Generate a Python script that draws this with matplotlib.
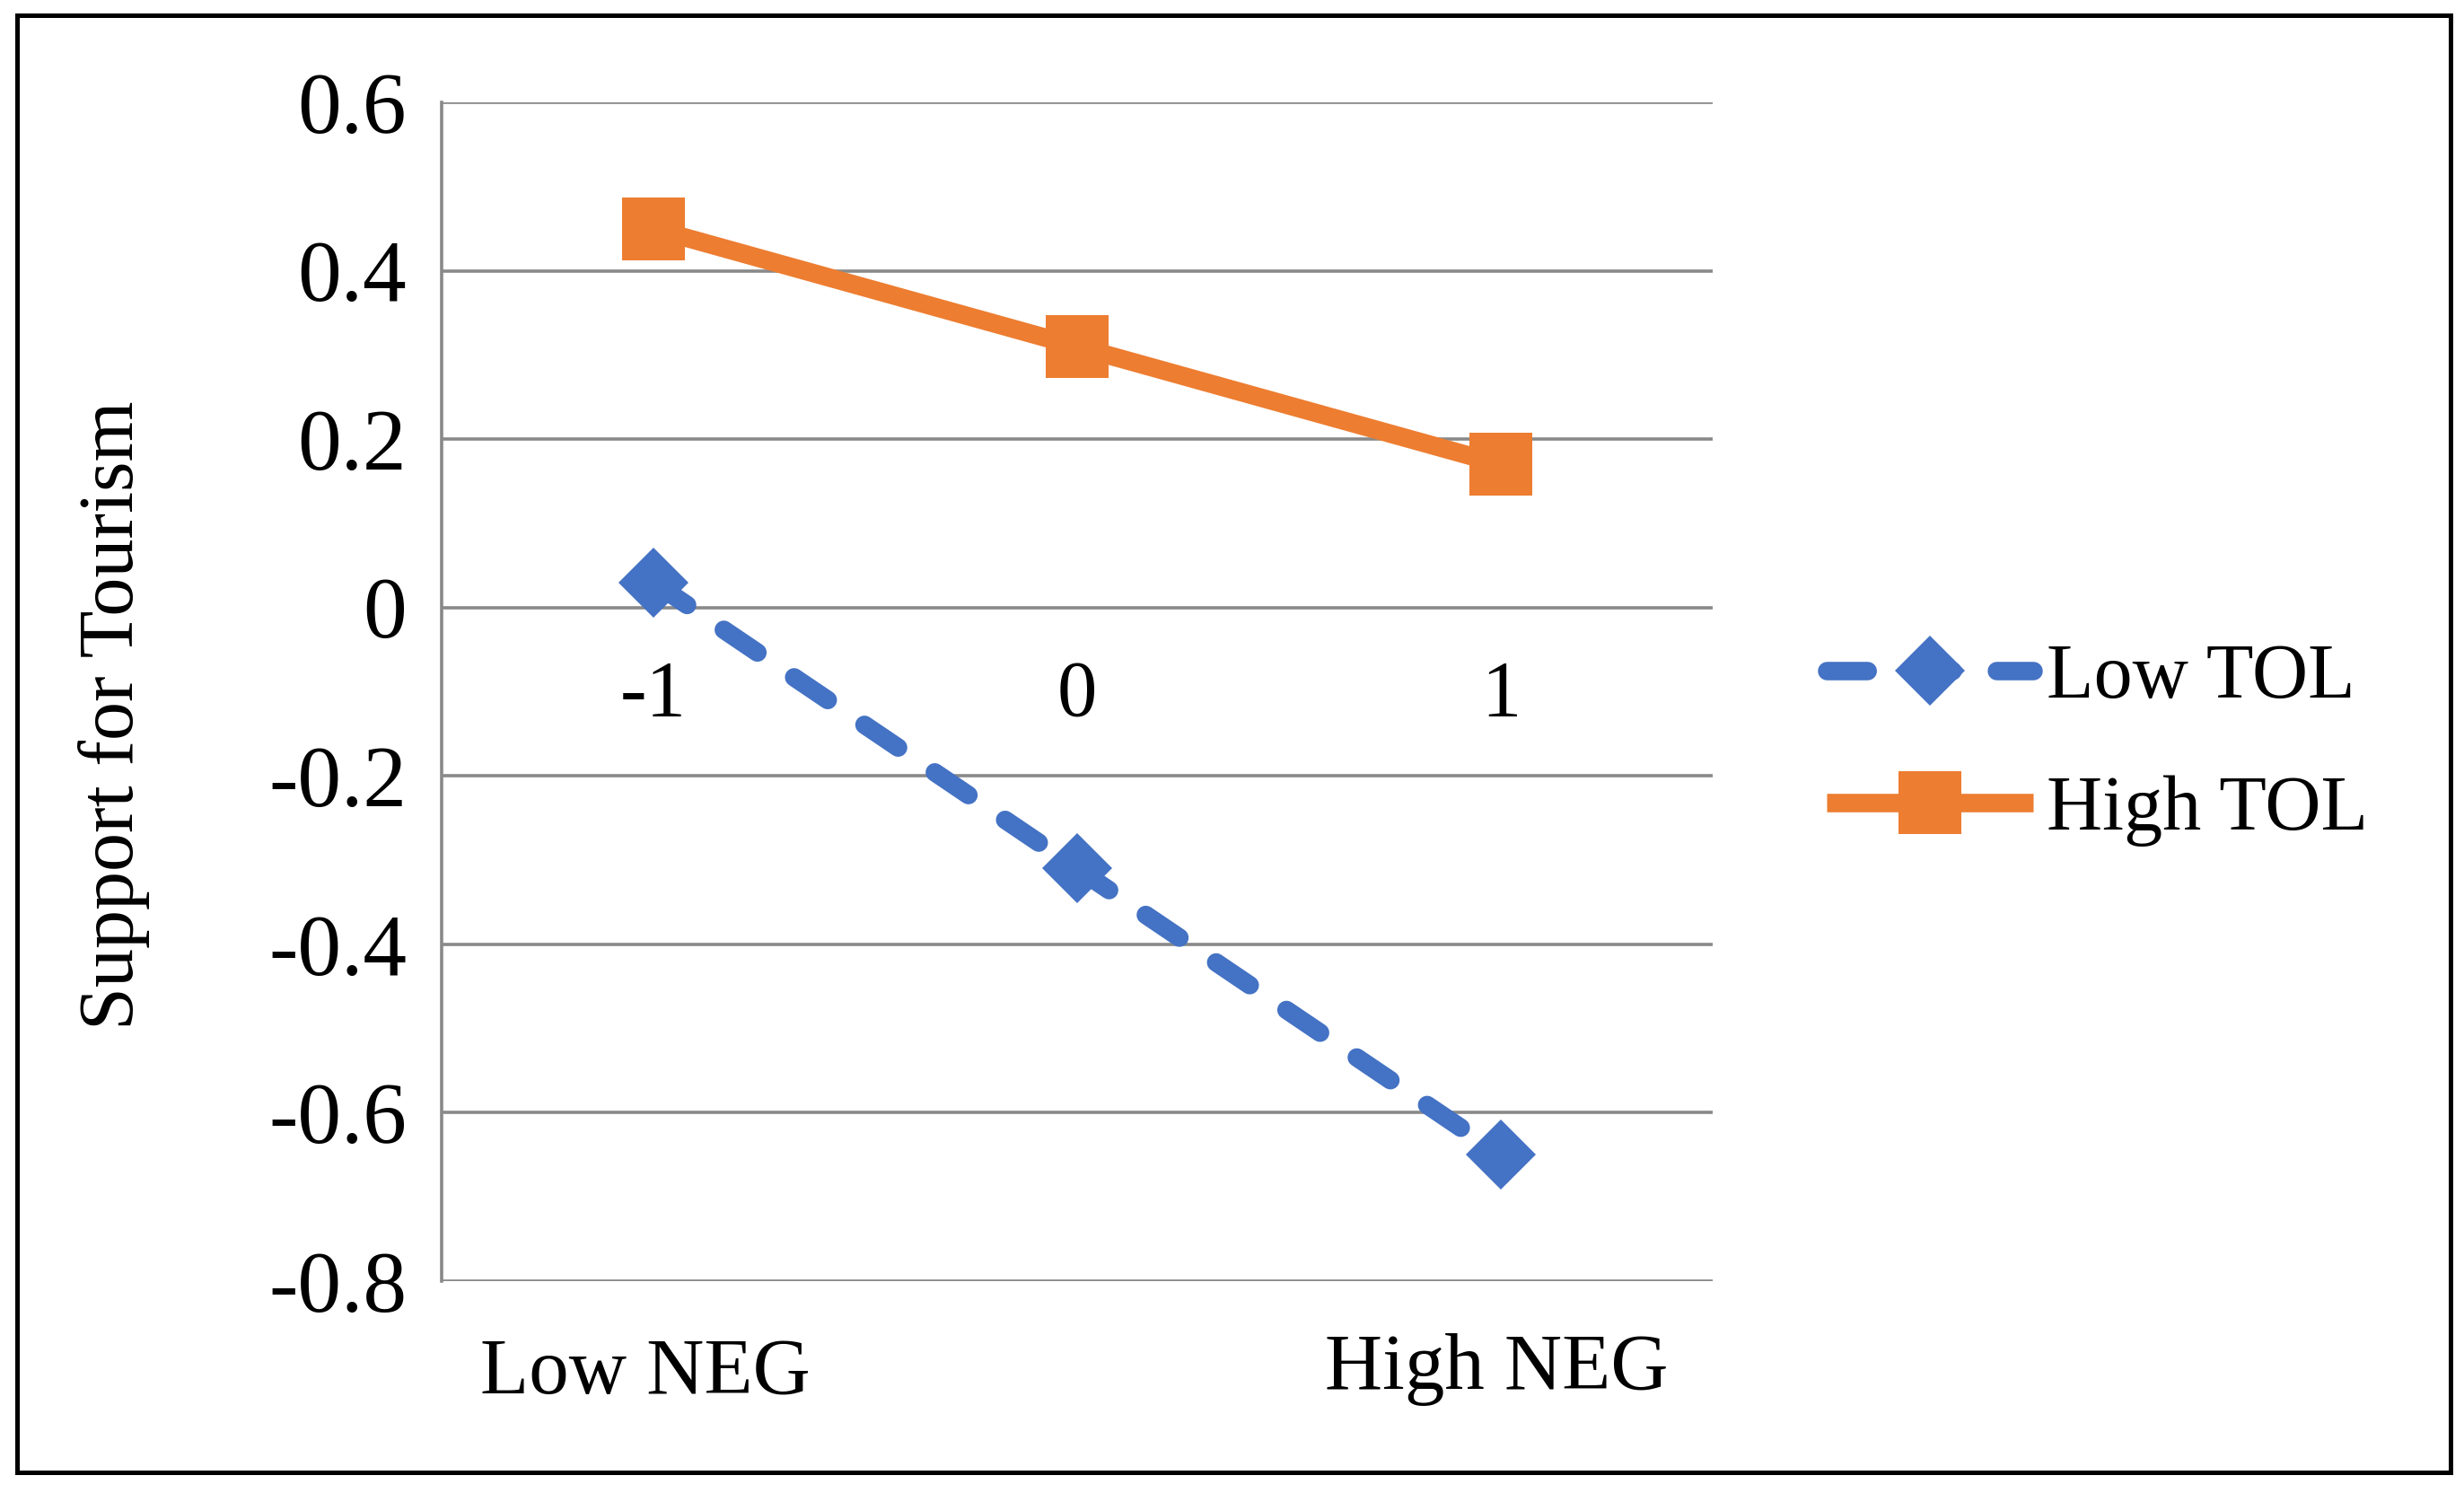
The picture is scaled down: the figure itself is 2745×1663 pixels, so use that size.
import matplotlib
matplotlib.use("Agg")
import matplotlib.pyplot as plt
from matplotlib.patches import Rectangle
import matplotlib.transforms as mtransforms

plt.rcParams['font.family'] = ['Liberation Serif', 'DejaVu Serif']

# ---- data ----
categories = ["-1", "0", "1"]
end_labels = ["Low NEG", "", "High NEG"]
low_tol = [0.03, -0.31, -0.65]
high_tol = [0.45, 0.31, 0.17]
series_names = ["Low TOL", "High TOL"]
y_ticks = [0.6, 0.4, 0.2, 0, -0.2, -0.4, -0.6, -0.8]
y_label = "Support for Tourism"

BLUE = "#4472C4"
ORANGE = "#ED7D31"
GRID = "#898989"

W, H, DPI = 2745, 1663, 200
fig = plt.figure(figsize=(W / DPI, H / DPI), dpi=DPI)
fig.patch.set_facecolor("white")

# axes placement (pixel measurements from reference)
left, right, top, bottom = 492, 1908, 114, 1427
ax = fig.add_axes([left / W, (H - bottom) / H, (right - left) / W, (bottom - top) / H])

x = list(range(len(categories)))
lw = 7.4
ax.plot(x, low_tol, color=BLUE, lw=lw, linestyle=(0, (2.2, 2.4)),
        dash_capstyle='round', marker='D', markersize=20,
        markeredgewidth=0, label=series_names[0], zorder=3)
ax.plot(x, high_tol, color=ORANGE, lw=lw, solid_capstyle='butt',
        marker='s', markersize=25, markeredgewidth=0,
        label=series_names[1], zorder=3)

ax.set_xlim(-0.5, 2.5)
ax.set_ylim(-0.8, 0.6)
ax.set_yticks(y_ticks)
ax.set_yticklabels([("%g" % v) for v in y_ticks])
ax.yaxis.grid(True, color=GRID, lw=1.3)
ax.set_axisbelow(True)

for s in ['top', 'right']:
    ax.spines[s].set_visible(False)
ax.spines['left'].set_color(GRID)
ax.spines['left'].set_linewidth(1.3)
ax.spines['bottom'].set_position(('data', 0))
ax.spines['bottom'].set_visible(False)

ax.set_xticks(x)
ax.set_xticklabels(categories)
ax.tick_params(axis='x', length=0, pad=21, labelsize=32)
ax.tick_params(axis='y', length=0, pad=14, labelsize=35)

ax.set_ylabel(y_label, fontsize=31)
ax.yaxis.set_label_coords(-0.258, 0.48)
ax.yaxis.label.set_va('center')

trans = mtransforms.blended_transform_factory(ax.transData, ax.transAxes)
offs = {0: (-0.02, -0.0952), 2: (-0.01, -0.0914)}
for i, lab in enumerate(end_labels):
    if lab:
        dx, yy = offs[i]
        ax.text(i + dx, yy, lab, transform=trans, ha='center', va='baseline',
                fontsize=32, clip_on=False)

leg = ax.legend(loc='center left', bbox_to_anchor=((2035 - left) / (right - left), 0.455),
                frameon=False, fontsize=31, handlelength=2.67, handletextpad=0.17,
                labelspacing=0.78, borderpad=0, borderaxespad=0)

# outer border
fig.patches.append(Rectangle((19 / W, (H - 1640) / H), 2711 / W, (1640 - 16.5) / H,
                             transform=fig.transFigure, fill=False,
                             edgecolor='black', lw=1.8))

fig.savefig("out.png", dpi=DPI, facecolor="white")
